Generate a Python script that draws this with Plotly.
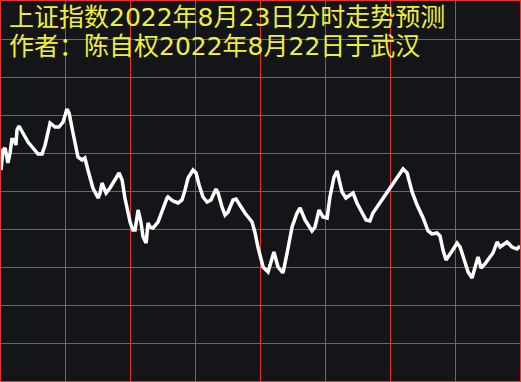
import plotly.graph_objects as go

# Time axis: minutes into the trading session (0..240), 8 columns of 30 minutes
minutes = [0, 0.9, 1.9, 2.8, 3.2, 4.2, 5.1, 5.5, 6.0, 6.9, 7.4, 8.3, 10.2, 12.5, 14.8, 17.1,
           19.0, 20.4, 22.7, 25.0, 26.8, 28.7, 30.5, 31.5, 33.3, 35.6, 37.5, 38.8, 40.2, 42.5,
           44.9, 45.8, 46.7, 47.6, 48.6, 50.4, 52.7, 54.6, 56.0, 57.3, 59.7, 61.0, 62.0, 63.4,
           64.7, 65.7, 67.1, 68.0, 68.9, 70.3, 72.6, 74.5, 76.8, 77.2, 79.5, 81.9, 83.7, 85.1,
           86.5, 88.8, 90.2, 91.6, 93.4, 95.3, 97.1, 99.4, 100.4, 102.2, 103.6, 105.0, 107.3,
           108.7, 110.5, 112.8, 116.1, 117.5, 118.8, 121.2, 123.5, 126.2, 128.1, 130.4, 132.3,
           134.6, 136.9, 138.3, 140.6, 143.8, 145.2, 147.1, 148.9, 150.8, 152.1, 154.0, 155.4,
           156.3, 157.7, 159.5, 161.4, 162.8, 164.6, 166.9, 168.8, 170.6, 172.0, 173.9, 176.7,
           179.9, 183.1, 185.9, 187.8, 190.1, 192.4, 195.2, 197.5, 199.3, 201.6, 203.0, 204.4,
           205.8, 208.6, 210.9, 212.3, 214.1, 216.0, 217.8, 219.2, 220.6, 222.0, 223.8, 226.1,
           227.5, 229.4, 230.8, 234.0, 236.3, 238.6, 240]

# Forecast level (arbitrary units, 38 units per grid row, 0..380)
level = [211, 231, 233, 219, 218, 228, 243, 238, 243, 236, 251, 255, 248, 239, 233, 227,
         227, 236, 258, 254, 254, 259, 272, 268, 248, 224, 221, 223, 211, 193,
         183, 188, 198, 193, 188, 193, 201, 208, 201, 183, 159, 151, 151, 171,
         159, 144, 138, 158, 154, 153, 159, 171, 183, 184, 180, 178, 181, 191,
         203, 211, 208, 196, 184, 179, 181, 192, 188, 174, 166, 169, 181,
         182, 176, 168, 159, 148, 134, 114, 109, 129, 114, 108, 128,
         154, 168, 173, 161, 150, 154, 171, 164, 163, 184, 204, 210,
         201, 189, 183, 186, 188, 178, 168, 161, 160, 168, 174, 183,
         194, 204, 212, 208, 189, 176, 163, 150, 147, 148, 145, 131,
         121, 130, 138, 134, 121, 109, 103, 114, 124, 113, 117, 124,
         128, 139, 134, 139, 134, 132, 135]

x_ticks = [0, 30, 60, 90, 120, 150, 180, 210, 240]
y_ticks = [0, 38, 76, 114, 152, 190, 228, 266, 304, 342, 380]

title_line1 = "上证指数2022年8月23日分时走势预测"
title_line2 = "作者：陈自权2022年8月22日于武汉"

BG = "#141518"
GRID = "#e8322d"
YELLOW = "#f0ef3c"

fig = go.Figure()
fig.add_trace(go.Scatter(
    x=minutes, y=level, mode="lines",
    line=dict(color="#ffffff", width=3.5),
    hoverinfo="skip", showlegend=False,
))

axis_common = dict(showgrid=True, gridcolor=GRID, gridwidth=1, zeroline=False,
                   showticklabels=False, ticks="", showline=True, linecolor=GRID,
                   linewidth=1, mirror=True, fixedrange=True)

fig.update_xaxes(range=[0, 240], tickmode="array", tickvals=x_ticks, **axis_common)
fig.update_yaxes(range=[0, 380], tickmode="array", tickvals=y_ticks, **axis_common)

font = dict(family="DejaVu Sans, Noto Sans CJK SC", size=25, color=YELLOW)
fig.add_annotation(text=title_line1, xref="paper", yref="paper", x=0.0, y=0.956,
                   xanchor="left", yanchor="middle", xshift=7, showarrow=False,
                   font=font, borderpad=0)
fig.add_annotation(text=title_line2, xref="paper", yref="paper", x=0.0, y=0.879,
                   xanchor="left", yanchor="middle", xshift=7, showarrow=False,
                   font=font, borderpad=0)

fig.update_layout(width=521, height=382, margin=dict(l=1, r=1, t=1, b=1),
                  paper_bgcolor=BG, plot_bgcolor=BG)

fig.write_html("out.html")
